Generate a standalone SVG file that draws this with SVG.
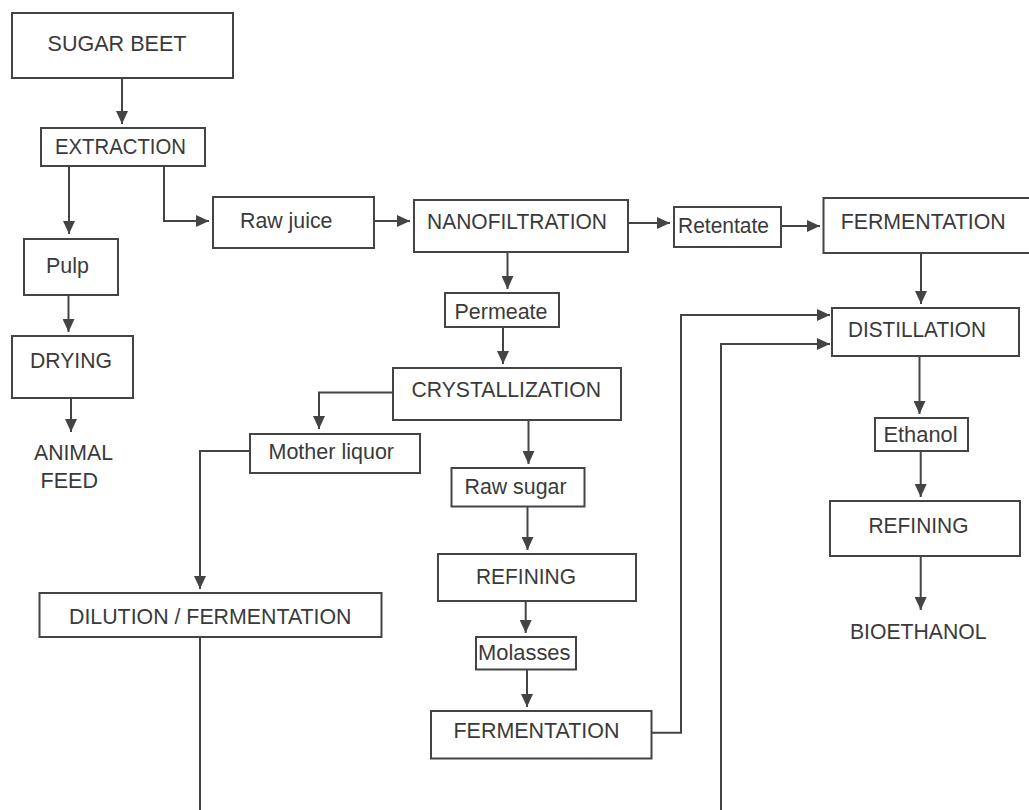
<svg xmlns="http://www.w3.org/2000/svg" width="1029" height="810" viewBox="0 0 1029 810">
<style>
.box{fill:#fff;stroke:#444;stroke-width:2}
.t{font-family:"Liberation Sans",Arial,sans-serif;font-size:22.5px;fill:#3a3a3a}
.c{fill:none;stroke:#444;stroke-width:2}
</style>
<defs>
<marker id="ah" markerUnits="userSpaceOnUse" markerWidth="13" markerHeight="12" refX="13" refY="6" orient="auto">
<path d="M0,0 L13,6 L0,12 z" fill="#444"/>
</marker>
</defs>
<rect width="1029" height="810" fill="#fff"/>
<g id="connectors">
<path class="c" d="M122,78 V124" marker-end="url(#ah)"/>
<path class="c" d="M69,166 V234" marker-end="url(#ah)"/>
<path class="c" d="M164,166 V221 H209" marker-end="url(#ah)"/>
<path class="c" d="M374,221 H410" marker-end="url(#ah)"/>
<path class="c" d="M628,223 H670" marker-end="url(#ah)"/>
<path class="c" d="M781,226 H820" marker-end="url(#ah)"/>
<path class="c" d="M507.5,252 V289" marker-end="url(#ah)"/>
<path class="c" d="M503,327 V364" marker-end="url(#ah)"/>
<path class="c" d="M921,253 V304" marker-end="url(#ah)"/>
<path class="c" d="M68.5,295 V332" marker-end="url(#ah)"/>
<path class="c" d="M71,398 V432" marker-end="url(#ah)"/>
<path class="c" d="M393,392.5 H319 V429" marker-end="url(#ah)"/>
<path class="c" d="M250,451 H200 V589" marker-end="url(#ah)"/>
<path class="c" d="M200,637 V812"/>
<path class="c" d="M528.5,420 V464" marker-end="url(#ah)"/>
<path class="c" d="M527.5,506.5 V550" marker-end="url(#ah)"/>
<path class="c" d="M525.7,601 V633" marker-end="url(#ah)"/>
<path class="c" d="M527,669.5 V707" marker-end="url(#ah)"/>
<path class="c" d="M651.5,732.7 H681 V315 H830" marker-end="url(#ah)"/>
<path class="c" d="M721,812 V344 H830" marker-end="url(#ah)"/>
<path class="c" d="M919.5,356 V414" marker-end="url(#ah)"/>
<path class="c" d="M920.7,451 V497" marker-end="url(#ah)"/>
<path class="c" d="M920.7,556 V610" marker-end="url(#ah)"/>
</g>
<g id="sugar-beet"><rect class="box" x="12" y="13" width="221" height="65"/><text class="t" x="47.5" y="51" textLength="139" lengthAdjust="spacingAndGlyphs">SUGAR BEET</text></g>
<g id="extraction"><rect class="box" x="41" y="128" width="164" height="38"/><text class="t" x="55" y="153.5" textLength="131" lengthAdjust="spacingAndGlyphs">EXTRACTION</text></g>
<g id="raw-juice"><rect class="box" x="213" y="197" width="161" height="51"/><text class="t" x="240" y="228" textLength="92.5" lengthAdjust="spacingAndGlyphs">Raw juice</text></g>
<g id="nanofiltration"><rect class="box" x="414" y="200" width="214" height="52"/><text class="t" x="427" y="228.5" textLength="180" lengthAdjust="spacingAndGlyphs">NANOFILTRATION</text></g>
<g id="retentate"><rect class="box" x="674" y="207" width="107" height="40"/><text class="t" x="678" y="232.5" textLength="91" lengthAdjust="spacingAndGlyphs">Retentate</text></g>
<g id="fermentation-1"><rect class="box" x="823.5" y="198" width="212" height="55"/><text class="t" x="840.7" y="229" textLength="165" lengthAdjust="spacingAndGlyphs">FERMENTATION</text></g>
<g id="permeate"><rect class="box" x="445" y="293" width="114" height="34"/><text class="t" x="454.5" y="319" textLength="93" lengthAdjust="spacingAndGlyphs">Permeate</text></g>
<g id="distillation"><rect class="box" x="832" y="308" width="187" height="48"/><text class="t" x="848" y="337" textLength="138" lengthAdjust="spacingAndGlyphs">DISTILLATION</text></g>
<g id="pulp"><rect class="box" x="24" y="239" width="94" height="56"/><text class="t" x="46" y="272.5" textLength="43" lengthAdjust="spacingAndGlyphs">Pulp</text></g>
<g id="drying"><rect class="box" x="12" y="336" width="121" height="62"/><text class="t" x="30" y="368" textLength="82" lengthAdjust="spacingAndGlyphs">DRYING</text></g>
<g id="animal-feed"><text class="t" x="34" y="460" textLength="79" lengthAdjust="spacingAndGlyphs">ANIMAL</text><text class="t" x="40.5" y="488" textLength="57.5" lengthAdjust="spacingAndGlyphs">FEED</text></g>
<g id="crystallization"><rect class="box" x="393" y="368" width="228" height="52"/><text class="t" x="411.5" y="397" textLength="189.5" lengthAdjust="spacingAndGlyphs">CRYSTALLIZATION</text></g>
<g id="mother-liquor"><rect class="box" x="250" y="434" width="170" height="39"/><text class="t" x="268.5" y="458.5" textLength="125.5" lengthAdjust="spacingAndGlyphs">Mother liquor</text></g>
<g id="dilution-fermentation"><rect class="box" x="39.5" y="593" width="342" height="44"/><text class="t" x="69" y="623.5" textLength="282.5" lengthAdjust="spacingAndGlyphs">DILUTION / FERMENTATION</text></g>
<g id="raw-sugar"><rect class="box" x="451.5" y="468" width="133" height="38.5"/><text class="t" x="464.5" y="493.5" textLength="102" lengthAdjust="spacingAndGlyphs">Raw sugar</text></g>
<g id="refining-1"><rect class="box" x="438" y="554" width="198" height="47"/><text class="t" x="476" y="583.5" textLength="100" lengthAdjust="spacingAndGlyphs">REFINING</text></g>
<g id="molasses"><rect class="box" x="476" y="637" width="100" height="32.5"/><text class="t" x="478" y="659.5" textLength="92.5" lengthAdjust="spacingAndGlyphs">Molasses</text></g>
<g id="fermentation-2"><rect class="box" x="431" y="711" width="220.5" height="47.5"/><text class="t" x="453.5" y="737.5" textLength="166" lengthAdjust="spacingAndGlyphs">FERMENTATION</text></g>
<g id="ethanol"><rect class="box" x="875" y="418" width="93" height="33"/><text class="t" x="883.5" y="442" textLength="74" lengthAdjust="spacingAndGlyphs">Ethanol</text></g>
<g id="refining-2"><rect class="box" x="830" y="501" width="190" height="55"/><text class="t" x="868.5" y="532.5" textLength="100" lengthAdjust="spacingAndGlyphs">REFINING</text></g>
<g id="bioethanol"><text class="t" x="850" y="639" textLength="136.5" lengthAdjust="spacingAndGlyphs">BIOETHANOL</text></g>
</svg>
